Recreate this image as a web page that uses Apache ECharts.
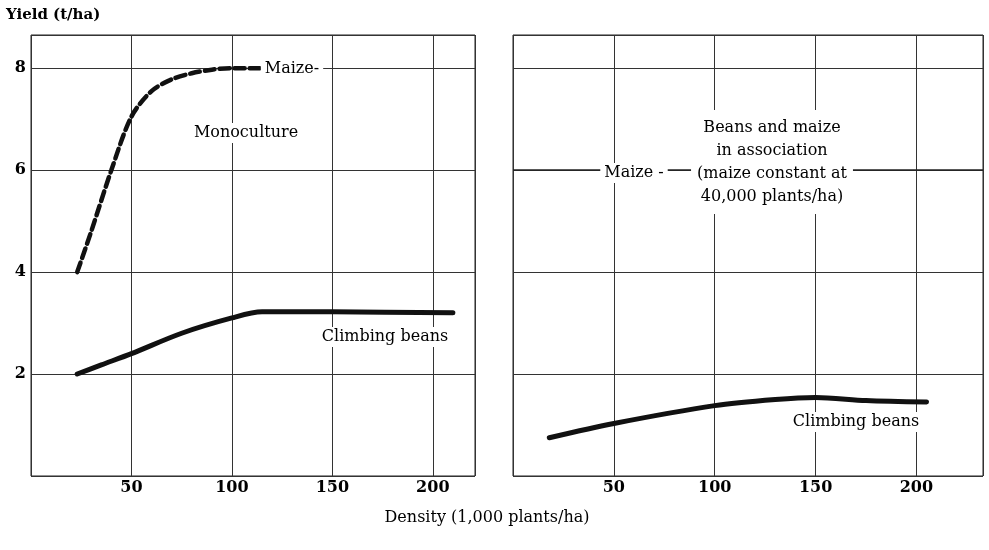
<!DOCTYPE html>
<html>
<head>
<meta charset="utf-8">
<script src="https://cdn.jsdelivr.net/npm/echarts@6/dist/echarts.min.js"></script>
<style>
  html, body { margin: 0; padding: 0; background: #fff; }
  #main { width: 989px; height: 550px; }
</style>
</head>
<body>
<div id="main"></div>
<script>
// tick labels
const densityTicks = [50, 100, 150, 200];
const yieldTicks = [2, 4, 6, 8];

// left panel: monoculture
const monoMaizeDensity = [23, 30, 40, 50, 60, 70, 80, 90, 100, 114];
const monoMaizeYield = [4.0, 4.8, 6.0, 7.05, 7.55, 7.78, 7.9, 7.97, 8.0, 8.0];
const monoBeansDensity = [23, 35, 50, 75, 100, 115, 150, 210];
const monoBeansYield = [2.0, 2.18, 2.4, 2.8, 3.1, 3.22, 3.22, 3.2];

// right panel: beans and maize in association
const assocMaizeDensity = [0, 233];
const assocMaizeYield = [6, 6];
const assocBeansDensity = [18, 50, 100, 130, 150, 175, 205];
const assocBeansYield = [0.75, 1.03, 1.38, 1.5, 1.54, 1.48, 1.45];

const pairs = (xs, ys) => xs.map((x, i) => [x, ys[i]]);

const serif = 'DejaVu Serif';
const gridColor = '#333';

const chart = echarts.init(document.getElementById('main'));

function xAxisFor(gridIndex, max) {
    return {
        gridIndex: gridIndex,
        type: 'value',
        min: 0,
        max: max,
        interval: 50,
        axisLine: { show: false },
        axisTick: { show: false },
        axisLabel: {
            margin: 4,
            fontFamily: serif,
            fontWeight: 'bold',
            fontSize: 16,
            color: '#000',
            formatter: v => densityTicks.includes(v) ? String(v) : ''
        },
        splitLine: { show: true, lineStyle: { color: gridColor, width: 1 } }
    };
}

function yAxisFor(gridIndex, showLabels) {
    return {
        gridIndex: gridIndex,
        type: 'value',
        min: 0,
        max: 8.65,
        interval: 2,
        axisLine: { show: false },
        axisTick: { show: false },
        axisLabel: {
            show: showLabels,
            margin: 5,
            fontFamily: serif,
            fontWeight: 'bold',
            fontSize: 16,
            color: '#000',
            formatter: v => yieldTicks.includes(v) ? String(v) : ''
        },
        splitLine: { show: true, lineStyle: { color: gridColor, width: 1 } }
    };
}

const beanLine = { color: '#111', width: 5, cap: 'round' };

function note(text, x, y) {
    return {
        type: 'text',
        x: x,
        y: y,
        z: 100,
        style: {
            text: text,
            font: '16px "' + serif + '"',
            fill: '#000',
            align: 'center',
            verticalAlign: 'middle',
            backgroundColor: '#fff',
            padding: [2, 4]
        }
    };
}

const option = {
    backgroundColor: '#fff',
    animation: false,
    grid: [
        { left: 31, top: 35, width: 444, height: 441, show: true, borderColor: '#222', borderWidth: 1 },
        { left: 513, top: 35, width: 470, height: 441, show: true, borderColor: '#222', borderWidth: 1 }
    ],
    xAxis: [xAxisFor(0, 221), xAxisFor(1, 233)],
    yAxis: [yAxisFor(0, true), yAxisFor(1, false)],
    series: [
        {
            name: 'Maize (monoculture)',
            type: 'line',
            xAxisIndex: 0, yAxisIndex: 0,
            data: pairs(monoMaizeDensity, monoMaizeYield),
            smooth: 0.3,
            showSymbol: false,
            lineStyle: { color: '#111', width: 4.5, type: [10, 5], cap: 'round' }
        },
        {
            name: 'Climbing beans (monoculture)',
            type: 'line',
            xAxisIndex: 0, yAxisIndex: 0,
            data: pairs(monoBeansDensity, monoBeansYield),
            smooth: 0.3,
            showSymbol: false,
            lineStyle: beanLine
        },
        {
            name: 'Maize (association)',
            type: 'line',
            xAxisIndex: 1, yAxisIndex: 1,
            data: pairs(assocMaizeDensity, assocMaizeYield),
            showSymbol: false,
            lineStyle: { color: '#222', width: 1.5 }
        },
        {
            name: 'Climbing beans (association)',
            type: 'line',
            xAxisIndex: 1, yAxisIndex: 1,
            data: pairs(assocBeansDensity, assocBeansYield),
            smooth: 0.3,
            showSymbol: false,
            lineStyle: beanLine
        }
    ],
    graphic: [
        {
            type: 'text', x: 6, y: 15, z: 100,
            style: {
                text: 'Yield (t/ha)',
                font: 'bold 15px "' + serif + '"',
                fill: '#000',
                verticalAlign: 'middle'
            }
        },
        {
            type: 'text', x: 487, y: 518, z: 100,
            style: {
                text: 'Density (1,000 plants/ha)',
                font: '16px "' + serif + '"',
                fill: '#000',
                align: 'center',
                verticalAlign: 'middle'
            }
        },
        note('Maize-', 292, 69),
        note('Monoculture', 246, 133),
        note('Climbing beans', 385, 337),
        note('Maize -', 634, 173),
        {
            type: 'text', x: 772, y: 162, z: 100,
            style: {
                text: 'Beans and maize\nin association\n(maize constant at\n40,000 plants/ha)',
                font: '16px "' + serif + '"',
                fill: '#000',
                align: 'center',
                verticalAlign: 'middle',
                lineHeight: 23,
                backgroundColor: '#fff',
                padding: [6, 6]
            }
        },
        note('Climbing beans', 856, 422)
    ]
};

chart.setOption(option);
</script>
</body>
</html>
